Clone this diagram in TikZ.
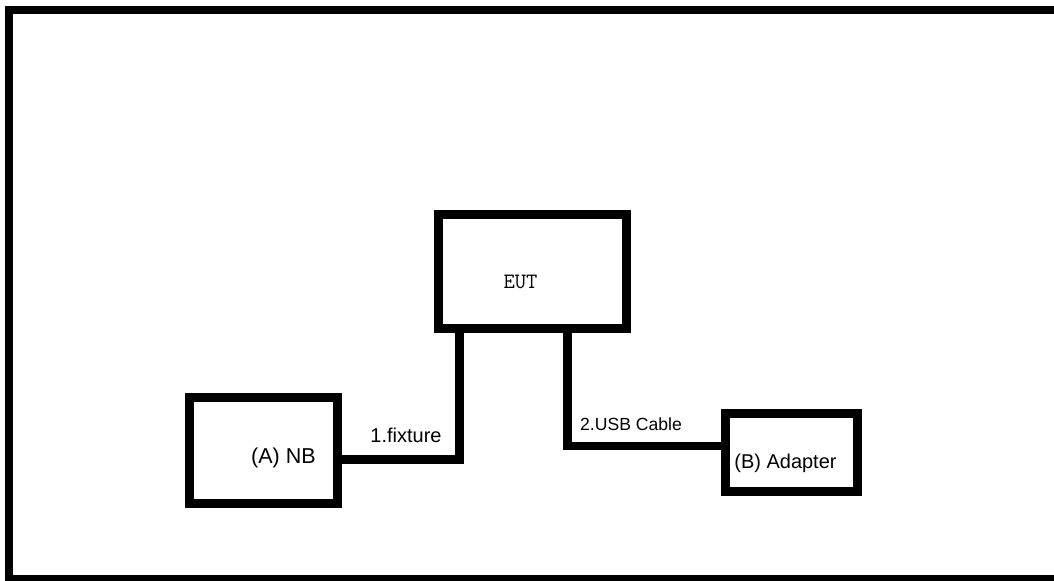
\documentclass[tikz,border=0pt]{standalone}
\usepackage{fontspec}
\setmainfont{Liberation Sans}
\usetikzlibrary{positioning}

\begin{document}

\begin{tikzpicture}[x=0.025cm,y=-0.025cm,
  box/.style={rectangle,draw,line width=6.4pt,inner sep=0pt},
  cable/.style={draw,line width=5.7pt,line join=miter},
  lbl/.style={anchor=base,inner sep=0pt}]

\useasboundingbox (0,0) rectangle (1054,580);

\clip (0,0) rectangle (1054,580);

\draw[line width=5.7pt] (9,10) rectangle (1080,579);

\node (eut) [box,minimum width=4.71cm,minimum height=2.86cm] at (532.75,271.75) {};

\node (nb) [box,minimum width=3.69cm,minimum height=2.64cm] at (263.75,450.25) {};

\node (ad) [box,minimum width=3.29cm,minimum height=1.96cm] at (791.75,452.75) {};

\node (eutname) [lbl,font=\ttfamily\fontsize{15.6}{18}\selectfont] at (520.5,288) {EUT};

\node (nbname) [lbl,font=\fontsize{15.3}{18}\selectfont] at (283.5,463) {(A) NB};

\node (adname) [lbl,font=\fontsize{14.2}{17}\selectfont] at (785.5,468) {(B) Adapter};

\coordinate (fixbend) at (459.5,459.5);

\coordinate (usbbend) at (567.5,446);

\draw[cable] (nb.east |- fixbend) -- (fixbend) -- (fixbend |- eut.south);

\draw[cable] (eut.south -| usbbend) -- (usbbend) -- (ad.west |- usbbend);

\node (fix) [lbl,font=\fontsize{14.2}{17}\selectfont] at (406,442) {1.fixture};

\node (usb) [lbl,font=\fontsize{12.5}{15}\selectfont] at (631,430) {2.USB Cable};

\end{tikzpicture}

\end{document}
